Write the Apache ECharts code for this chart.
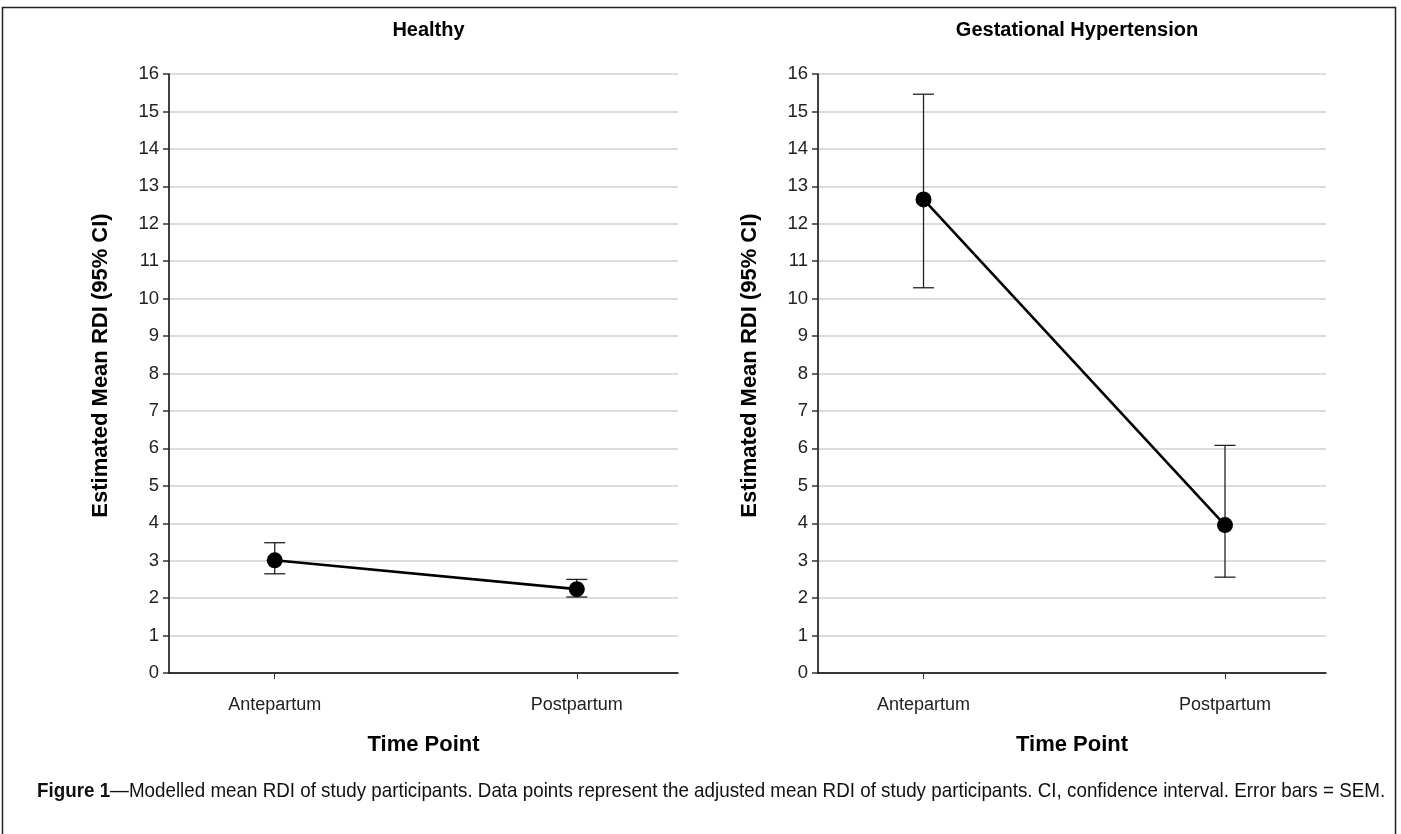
<!DOCTYPE html>
<html>
<head>
<meta charset="utf-8">
<script src="https://cdn.jsdelivr.net/npm/echarts@6/dist/echarts.min.js"></script>
<style>
html,body{margin:0;padding:0;background:#fff;}
#chart{width:1401px;height:834px;}
</style>
</head>
<body>
<div id="chart"></div>
<script>
// ---- data ----
const categories = ['Antepartum', 'Postpartum'];
const panelTitles = ['Healthy', 'Gestational Hypertension'];
const healthyMean = [3.01, 2.24];
const healthyLow  = [2.65, 2.03];
const healthyHigh = [3.48, 2.50];
const ghMean = [12.65, 3.95];
const ghLow  = [10.29, 2.56];
const ghHigh = [15.46, 6.08];
const yTicks = [0, 16, 1]; // min, max, step
const yAxisTitle = 'Estimated Mean RDI (95% CI)';
const xAxisTitle = 'Time Point';
const captionBold = 'Figure 1';
const captionText = '\u2014Modelled mean RDI of study participants. Data points represent the adjusted mean RDI of study participants. CI, confidence interval. Error bars = SEM.';

const FONT = "'Liberation Sans', Arial, sans-serif";
const chart = echarts.init(document.getElementById('chart'));

const grids = [
  {left: 169, top: 74, width: 509, height: 599},
  {left: 818, top: 74, width: 508, height: 599}
];
const panels = [
  {mean: healthyMean, low: healthyLow, high: healthyHigh},
  {mean: ghMean, low: ghLow, high: ghHigh}
];

const xAxes = [], yAxes = [], series = [], titles = [];
panels.forEach((p, i) => {
  xAxes.push({
    gridIndex: i, type: 'value', min: 0.65, max: 2.335,
    name: xAxisTitle, nameLocation: 'middle', nameGap: 61,
    nameTextStyle: {fontFamily: FONT, fontWeight: 'bold', fontSize: 22, color: '#000'},
    axisLine: {show: true, onZero: false, lineStyle: {color: '#000', width: 1.5}},
    axisTick: {show: true, customValues: [1, 2], length: 6, lineStyle: {color: '#333', width: 1}},
    axisLabel: {show: true, customValues: [1, 2], margin: 23, fontFamily: FONT, fontSize: 18, color: '#222',
      formatter: v => categories[Math.round(v) - 1] || ''},
    splitLine: {show: false}
  });
  yAxes.push({
    gridIndex: i, type: 'value', min: yTicks[0], max: yTicks[1], interval: yTicks[2],
    name: yAxisTitle, nameLocation: 'middle', nameGap: 57, nameRotate: 90,
    nameTextStyle: {fontFamily: FONT, fontWeight: 'bold', fontSize: 22, color: '#000', padding: [0, 0, 0, 16]},
    axisLine: {show: true, lineStyle: {color: '#000', width: 1.5}},
    axisTick: {show: true, length: 6, lineStyle: {color: '#333', width: 1.5}},
    axisLabel: {margin: 10, fontFamily: FONT, fontSize: 18.5, color: '#222'},
    splitLine: {show: true, lineStyle: {color: '#d0d0d0', width: 1.5}}
  });
  titles.push({
    text: panelTitles[i], left: grids[i].left + grids[i].width / 2, top: 15, textAlign: 'center',
    textStyle: {fontFamily: FONT, fontWeight: 'bold', fontSize: 20, color: '#000'}
  });
  series.push({
    type: 'custom', xAxisIndex: i, yAxisIndex: i, z: 3,
    data: categories.map((c, k) => [k + 1, p.low[k], p.high[k]]),
    renderItem: (params, api) => {
      const x = api.value(0);
      const lo = api.coord([x, api.value(1)]);
      const hi = api.coord([x, api.value(2)]);
      const hw = 10.5;
      const st = {stroke: '#222', lineWidth: 1.3};
      return {type: 'group', children: [
        {type: 'line', shape: {x1: lo[0], y1: lo[1], x2: hi[0], y2: hi[1]}, style: st},
        {type: 'line', shape: {x1: lo[0] - hw, y1: lo[1], x2: lo[0] + hw, y2: lo[1]}, style: st},
        {type: 'line', shape: {x1: hi[0] - hw, y1: hi[1], x2: hi[0] + hw, y2: hi[1]}, style: st}
      ]};
    }
  });
  series.push({
    type: 'line', xAxisIndex: i, yAxisIndex: i, z: 4,
    data: categories.map((c, k) => [k + 1, p.mean[k]]),
    symbol: 'circle', symbolSize: 16,
    itemStyle: {color: '#000'},
    lineStyle: {color: '#000', width: 2.6},
    animation: false
  });
});

chart.setOption({
  animation: false,
  backgroundColor: '#fff',
  title: titles,
  grid: grids,
  xAxis: xAxes,
  yAxis: yAxes,
  series: series,
  graphic: [
    {type: 'rect', shape: {x: 2.5, y: 7.5, width: 1393, height: 840},
      style: {fill: 'none', stroke: '#222', lineWidth: 1.5}, silent: true},
    {type: 'text', x: 37, y: 781, scaleX: 0.895,
      style: {
        text: '{b|' + captionBold + '}{n|' + captionText + '}',
        rich: {
          b: {fontFamily: FONT, fontWeight: 'bold', fontSize: 21, fill: '#111'},
          n: {fontFamily: FONT, fontSize: 21, fill: '#111'}
        }
      }}
  ]
});
</script>
</body>
</html>
